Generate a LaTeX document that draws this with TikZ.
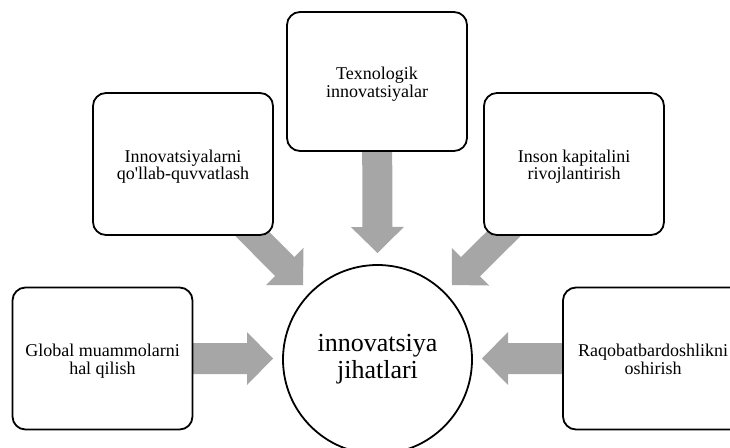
\documentclass[tikz,border=0pt]{standalone}
\usepackage{fontspec}
\setmainfont{Liberation Serif}[Ligatures=TeXOff]
\usetikzlibrary{calc,backgrounds}
\definecolor{arrowgray}{HTML}{A6A6A6}
\tikzset{
  box/.style={draw=black, line width=1.8pt, rounded corners=13pt, fill=white,
    minimum width=180pt, minimum height=142pt, inner sep=0pt,
    font=\fontsize{18}{17.5}\selectfont},
  hub/.style={circle, draw=black, line width=1.8pt, fill=white, minimum size=189pt,
    inner sep=0pt, align=center, font=\fontsize{26}{27}\selectfont},
  arrowfill/.style={fill=arrowgray}
}
\newcommand\boxtext[1]{\raisebox{-3.5pt}[\height][\depth]{\begin{tabular}{@{}c@{}}#1\end{tabular}}}
\newcommand\blockarrow[3]{%
  \path ($(#2)!26pt!(#1)$) coordinate (hb);
  \fill[arrowfill] ($(#1)!#3!90:(#2)$) -- ($(hb)!#3!90:(#2)$) -- ($(hb)!26.5pt!90:(#2)$)
    -- (#2) -- ($(hb)!26.5pt!-90:(#2)$) -- ($(hb)!#3!-90:(#2)$) -- ($(#1)!#3!-90:(#2)$) -- cycle;}
\begin{document}
\begin{tikzpicture}[x=1pt,y=-1pt]
  \clip (0,0) rectangle (730,447);
  \node[box, minimum height=139pt] (tech) at (377,81.5) {\boxtext{Texnologik\\innovatsiyalar}};
  \node[box] (supp) at (183,164) {\boxtext{Innovatsiyalarni\\qo'llab-quvvatlash}};
  \node[box] (human) at (574,164) {\boxtext{Inson kapitalini\\rivojlantirish}};
  \node[box] (glob) at (102.5,358.5) {\boxtext{Global muammolarni\\hal qilish}};
  \node[box] (comp) at (653,358.5) {\boxtext{Raqobatbardoshlikni\\oshirish}};
  \node[hub] (hub) at (377.5,359.5) {innovatsiya\\jihatlari};
  \coordinate (tipL) at (273,358.5);
  \coordinate (tipR) at (482,358.5);
  \coordinate (tipT) at (377.5,253);
  \coordinate (tipUL) at (303,285);
  \coordinate (tipUR) at (452,285);
  \begin{scope}[on background layer]
    \blockarrow{glob}{tipL}{15.5pt}
    \blockarrow{comp}{tipR}{15.5pt}
    \blockarrow{tech}{tipT}{15pt}
    \blockarrow{supp}{tipUL}{13.5pt}
    \blockarrow{human}{tipUR}{13.5pt}
  \end{scope}
\end{tikzpicture}
\end{document}
